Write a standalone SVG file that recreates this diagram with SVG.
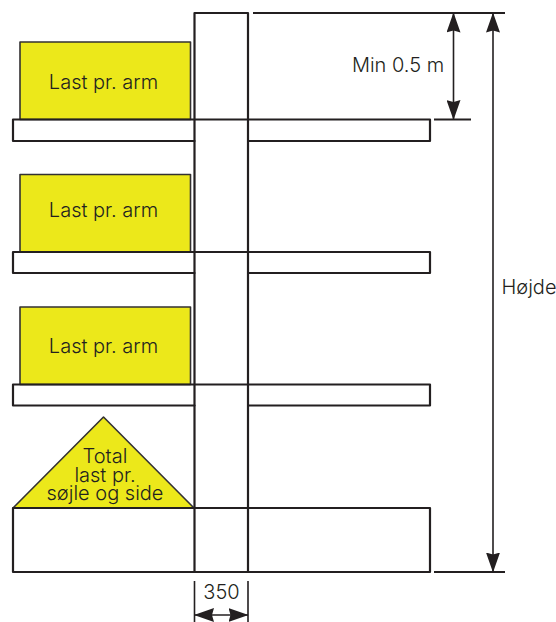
<svg xmlns="http://www.w3.org/2000/svg" width="556" height="622" viewBox="0 0 556 622">
<style>
.l{fill:none;stroke:#231f20;stroke-width:2.200;stroke-linecap:round;stroke-linejoin:round}
.d{fill:none;stroke:#231f20;stroke-width:1.600}
.t{fill:none;stroke:#231f20;stroke-width:2.200}
.y{fill:#ece81a;stroke:#333132;stroke-width:1.600;stroke-linejoin:round}
text{font-family:"Inter","Liberation Sans",sans-serif;font-weight:300;font-size:20px;fill:#231f20;text-anchor:middle}
</style>
<defs>
<marker id="a" markerUnits="userSpaceOnUse" markerWidth="20" markerHeight="14" refX="19.500" refY="7" orient="auto-start-reverse" viewBox="0 0 20 14"><path d="M0 0L20 7L0 14L2 7Z" fill="#231f20"/></marker>
</defs>
<rect width="556" height="622" fill="#fff"/>
<g id="load-1"><rect class="y" x="20" y="42" width="170.500" height="77.500"/><text x="103.500" y="89">Last pr. arm</text></g>
<g id="load-2"><rect class="y" x="20" y="174.500" width="170.500" height="77.500"/><text x="103.500" y="217">Last pr. arm</text></g>
<g id="load-3"><rect class="y" x="20" y="307" width="170.500" height="77.500"/><text x="103.500" y="353">Last pr. arm</text></g>
<g id="total-load"><path class="y" d="M103.500 417L13 508H194Z" stroke-width="2"/><text x="105"><tspan x="105" y="463">Total</tspan><tspan x="105" y="482">last pr.</tspan><tspan x="105" y="500">søjle og side</tspan></text></g>
<g id="column"><path class="l" d="M194.500 572V13H248V572"/></g>
<g id="arm-1"><path class="l" d="M194.500 119.500H13V141H194.500M194.500 119.500H248M248 119.500H430V141H248"/></g>
<g id="arm-2"><path class="l" d="M194.500 252H13V273H194.500M194.500 252H248M248 252H430V273H248"/></g>
<g id="arm-3"><path class="l" d="M194.500 384.500H13V405.500H194.500M194.500 384.500H248M248 384.500H430V405.500H248"/></g>
<g id="base"><path class="l" d="M13 508H430V572H13Z"/></g>
<g id="connectors">
<path class="t" d="M253 13H505M434 119.500H471M434 572H505"/>
<path class="d" d="M453.500 13V119.500" marker-start="url(#a)" marker-end="url(#a)"/>
<path class="d" d="M493 13V572" marker-start="url(#a)" marker-end="url(#a)"/>
<path class="d" d="M194.500 581V622M248 581V622"/>
<path class="d" d="M194.500 615H248" marker-start="url(#a)" marker-end="url(#a)"/>
</g>
<text id="label-min" x="398" y="72">Min 0.5 m</text>
<text id="label-height" x="529" y="294">Højde</text>
<text id="label-350" x="221.500" y="599">350</text>
</svg>
